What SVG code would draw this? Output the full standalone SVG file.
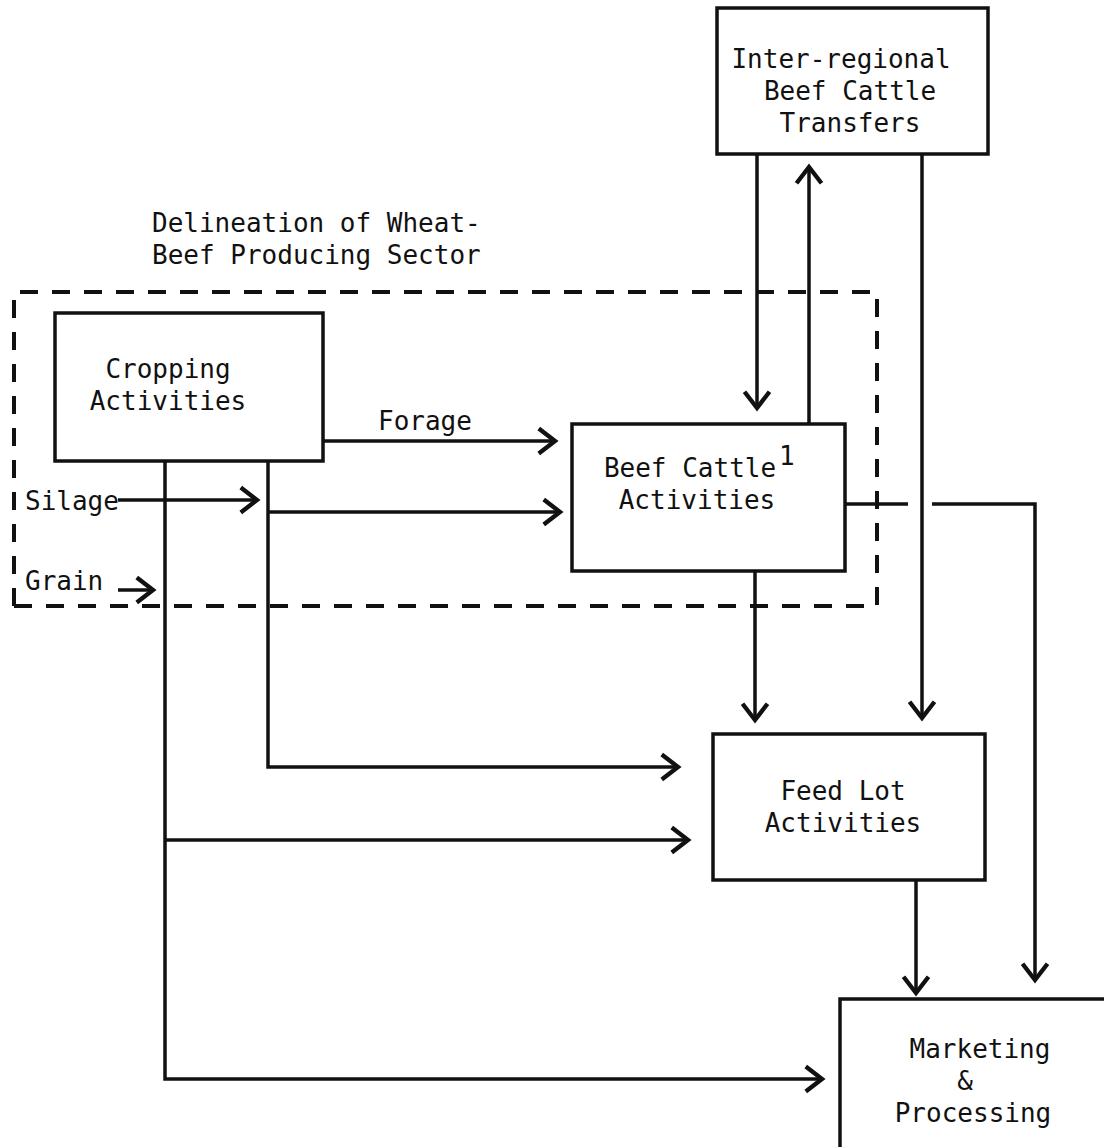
<svg xmlns="http://www.w3.org/2000/svg" width="1104" height="1147" viewBox="0 0 1104 1147">
<style>
.box{fill:none;stroke:#111;stroke-width:3.5}
.t{font-family:"DejaVu Sans Mono","Liberation Mono",monospace;font-size:26px;fill:#111;text-anchor:middle}
.tl{font-family:"DejaVu Sans Mono","Liberation Mono",monospace;font-size:26px;fill:#111}
.c{fill:none;stroke:#111;stroke-width:3.5}
.ca{fill:none;stroke:#111;stroke-width:3.5;marker-end:url(#ah)}
.dash{fill:none;stroke:#111;stroke-width:4;stroke-dasharray:18 14}
</style>
<defs>
<marker id="ah" markerUnits="userSpaceOnUse" markerWidth="30" markerHeight="30" refX="0" refY="0" viewBox="-16 -12 20 24" orient="auto" overflow="visible">
<path d="M-13 -10 L0 0 L-13 10" fill="none" stroke="#111" stroke-width="3.5"/>
</marker>
</defs>
<rect width="1104" height="1147" fill="#fff"/>
<g id="sector">
<path class="dash" d="M14 606 V292 H877 V606 H14"/>
<text class="tl" x="152" y="232">Delineation of Wheat-</text>
<text class="tl" x="152" y="264">Beef Producing Sector</text>
</g>
<g id="inter">
<rect class="box" x="717" y="8" width="271" height="146"/>
<text class="t" x="841" y="68">Inter-regional</text>
<text class="t" x="850" y="100">Beef Cattle</text>
<text class="t" x="850" y="132">Transfers</text>
</g>
<g id="cropping">
<rect class="box" x="55" y="313" width="268" height="148"/>
<text class="t" x="168" y="378">Cropping</text>
<text class="t" x="168" y="410">Activities</text>
</g>
<g id="beef">
<rect class="box" x="572" y="424" width="273" height="147"/>
<text class="t" x="690" y="477">Beef Cattle</text>
<text class="tl" x="779" y="465" font-size="20">1</text>
<text class="t" x="697" y="509">Activities</text>
</g>
<g id="feedlot">
<rect class="box" x="713" y="734" width="272" height="146"/>
<text class="t" x="843" y="800">Feed Lot</text>
<text class="t" x="843" y="832">Activities</text>
</g>
<g id="marketing">
<rect class="box" x="840" y="999" width="280" height="160"/>
<text class="t" x="980" y="1058">Marketing</text>
<text class="t" x="965" y="1090">&amp;</text>
<text class="t" x="973" y="1122">Processing</text>
</g>
<g id="labels">
<text class="tl" x="378" y="430">Forage</text>
<text class="tl" x="25" y="510">Silage</text>
<text class="tl" x="25" y="590">Grain</text>
</g>
<g id="connectors">
<path class="ca" d="M757 154 V408"/>
<path class="ca" d="M809 424 V167"/>
<path class="ca" d="M922 154 V718"/>
<path class="ca" d="M323 441 H555"/>
<path class="ca" d="M118 500 H257"/>
<path class="ca" d="M268 461 V767 H678"/>
<path class="ca" d="M268 512 H560"/>
<path class="ca" d="M165 461 V1079 H822"/>
<path class="ca" d="M165 840 H688"/>
<path class="ca" d="M118 590 H153"/>
<path class="c" d="M845 504 H908"/>
<path class="ca" d="M932 504 H1035 V980"/>
<path class="ca" d="M755 571 V720"/>
<path class="ca" d="M916 880 V993"/>
</g>
</svg>
